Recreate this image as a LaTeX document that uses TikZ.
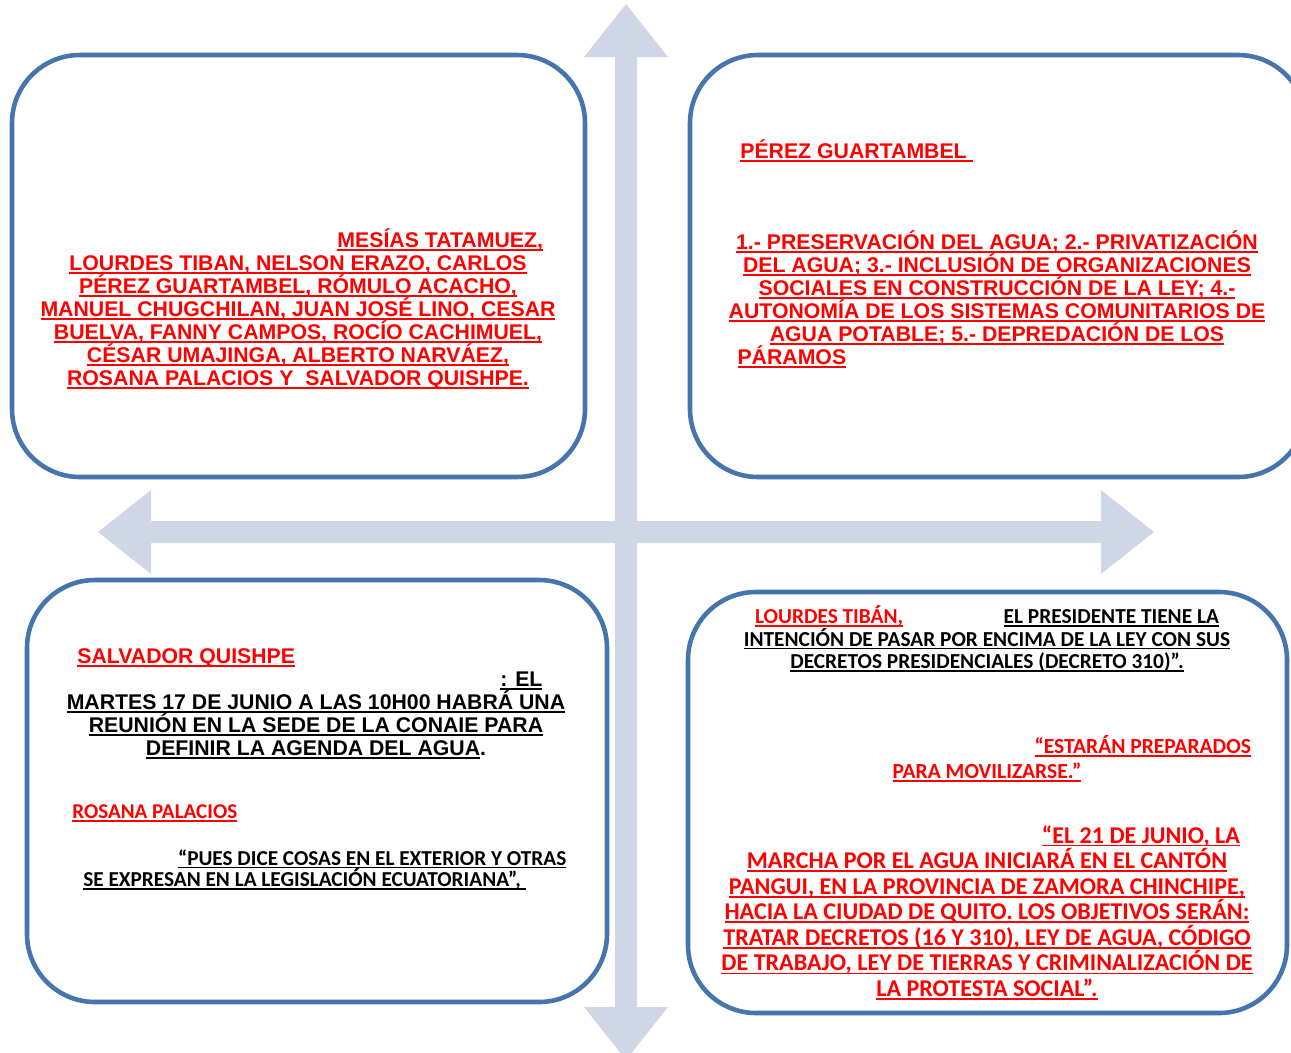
\documentclass[tikz,border=0pt]{standalone}
\usepackage{fontspec}
\newfontfamily\arialfont{Liberation Sans}
\newfontfamily\calibrifont{Carlito}
\definecolor{boxblue}{RGB}{70,116,173}
\definecolor{crossfill}{RGB}{207,215,230}
\newcommand{\ulin}[1]{\leavevmode\setbox0\hbox{#1}\rlap{\rule[-1.9pt]{\wd0}{1pt}}\box0}
\tikzset{
  quad/.style={draw=boxblue, line width=2.6pt, rounded corners=1.36cm, fill=white},
  arialtxt/.style={font=\arialfont\bfseries\fontsize{12.1}{13.1}\selectfont, inner sep=0pt, align=center},
  calibtxt/.style 2 args={font=\calibrifont\bfseries\fontsize{#1}{#2}\selectfont, inner sep=0pt, align=center},
}

\begin{document}
\begin{tikzpicture}[x=0.02cm, y=-0.02cm]
    \useasboundingbox (0,0) rectangle (1291,1052);
    % cross of four arrows
    \fill[crossfill] (637,521) -- (637,57) -- (668,57) -- (626,4) -- (584,57) -- (615,57) -- (615,521)
      -- (151,521) -- (151,490) -- (98,532) -- (151,574) -- (151,543) -- (615,543)
      -- (615,1007) -- (584,1007) -- (626,1060) -- (668,1007) -- (637,1007) -- (637,543)
      -- (1101,543) -- (1101,574) -- (1154,532) -- (1101,490) -- (1101,521) -- cycle;
    %
    \draw[quad] (12,55) rectangle (585,477);
    \draw[quad] (690,55) rectangle (1306,477);
    \draw[quad] (27,580) rectangle (607,1002);
    \draw[quad] (688,592) rectangle (1287,1013);
    % top left (anchor = last line)
    \node (tlnames) [arialtxt, text=red, anchor=base] at (298,385.5)
      {\makebox[9.8cm][r]{\ulin{MESÍAS TATAMUEZ,}}\\
       \ulin{LOURDES TIBAN, NELSON ERAZO, CARLOS}\\
       \ulin{PÉREZ GUARTAMBEL, RÓMULO ACACHO,}\\
       \ulin{MANUEL CHUGCHILAN, JUAN JOSÉ LINO, CESAR}\\
       \ulin{BUELVA, FANNY CAMPOS, ROCÍO CACHIMUEL,}\\
       \ulin{CÉSAR UMAJINGA, ALBERTO NARVÁEZ,}\\
       \ulin{ROSANA PALACIOS Y\ \ SALVADOR QUISHPE.}};
    % top right
    \node (trname) [arialtxt, text=red, anchor=base west] at (740,158.5) {\ulin{PÉREZ GUARTAMBEL~}};
    \node (trtopics) [arialtxt, text=red, anchor=base] at (997,364.5)
      {\ulin{1.- PRESERVACIÓN DEL AGUA; 2.- PRIVATIZACIÓN}\\
       \ulin{DEL AGUA; 3.- INCLUSIÓN DE ORGANIZACIONES}\\
       \ulin{SOCIALES EN CONSTRUCCIÓN DE LA LEY; 4.-}\\
       \ulin{AUTONOMÍA DE LOS SISTEMAS COMUNITARIOS DE}\\
       \ulin{AGUA POTABLE; 5.- DEPREDACIÓN DE LOS}\\
       \makebox[10.38cm][l]{\ulin{PÁRAMOS}}};
    % bottom left
    \node (blname) [arialtxt, text=red, anchor=base west] at (77,663.5) {\ulin{SALVADOR QUISHPE}};
    \node (blmeeting) [arialtxt, anchor=base] at (316,755.5)
      {\makebox[9.06cm][r]{\ulin{: EL}}\\
       \ulin{MARTES 17 DE JUNIO A LAS 10H00 HABRÁ UNA}\\
       \ulin{REUNIÓN EN LA SEDE DE LA CONAIE PARA}\\
       \ulin{DEFINIR LA AGENDA DEL AGUA}.};
    \node (blrosana) [calibtxt={12}{12.2}, text=red, anchor=base west] at (72,818.5) {\ulin{ROSANA PALACIOS}};
    \node (blquote) [calibtxt={12.1}{12.2}, align=left, anchor=base west] at (83,886.5)
      {\makebox[9.66cm][r]{\ulin{“PUES DICE COSAS EN EL EXTERIOR Y OTRAS}}\\
       \ulin{SE EXPRESAN EN LA LEGISLACIÓN ECUATORIANA”,~}};
    % bottom right
    \node (brtiban) [calibtxt={12.15}{12.75}, anchor=base] at (987,668.5)
      {\makebox[9.28cm]{\textcolor{red}{\ulin{LOURDES TIBÁN,}}\hfill\ulin{EL PRESIDENTE TIENE LA}}\\
       \ulin{INTENCIÓN DE PASAR POR ENCIMA DE LA LEY CON SUS}\\
       \ulin{DECRETOS PRESIDENCIALES (DECRETO 310)”.}};
    \node (brready) [calibtxt={12.25}{14.2}, text=red, anchor=base] at (987,778.5)
      {\makebox[10.56cm][r]{\ulin{“ESTARÁN PREPARADOS}}\\
       \ulin{PARA MOVILIZARSE.”}};
    \node (brmarch) [calibtxt={13.7}{14.55}, text=red, anchor=base] at (987,996.5)
      {\makebox[10.12cm][r]{\ulin{“EL 21 DE JUNIO, LA}}\\
       \ulin{MARCHA POR EL AGUA INICIARÁ EN EL CANTÓN}\\
       \ulin{PANGUI, EN LA PROVINCIA DE ZAMORA CHINCHIPE,}\\
       \ulin{HACIA LA CIUDAD DE QUITO. LOS OBJETIVOS SERÁN:}\\
       \ulin{TRATAR DECRETOS (16 Y 310), LEY DE AGUA, CÓDIGO}\\
       \ulin{DE TRABAJO, LEY DE TIERRAS Y CRIMINALIZACIÓN DE}\\
       \ulin{LA PROTESTA SOCIAL”.}};
\end{tikzpicture}
\end{document}
